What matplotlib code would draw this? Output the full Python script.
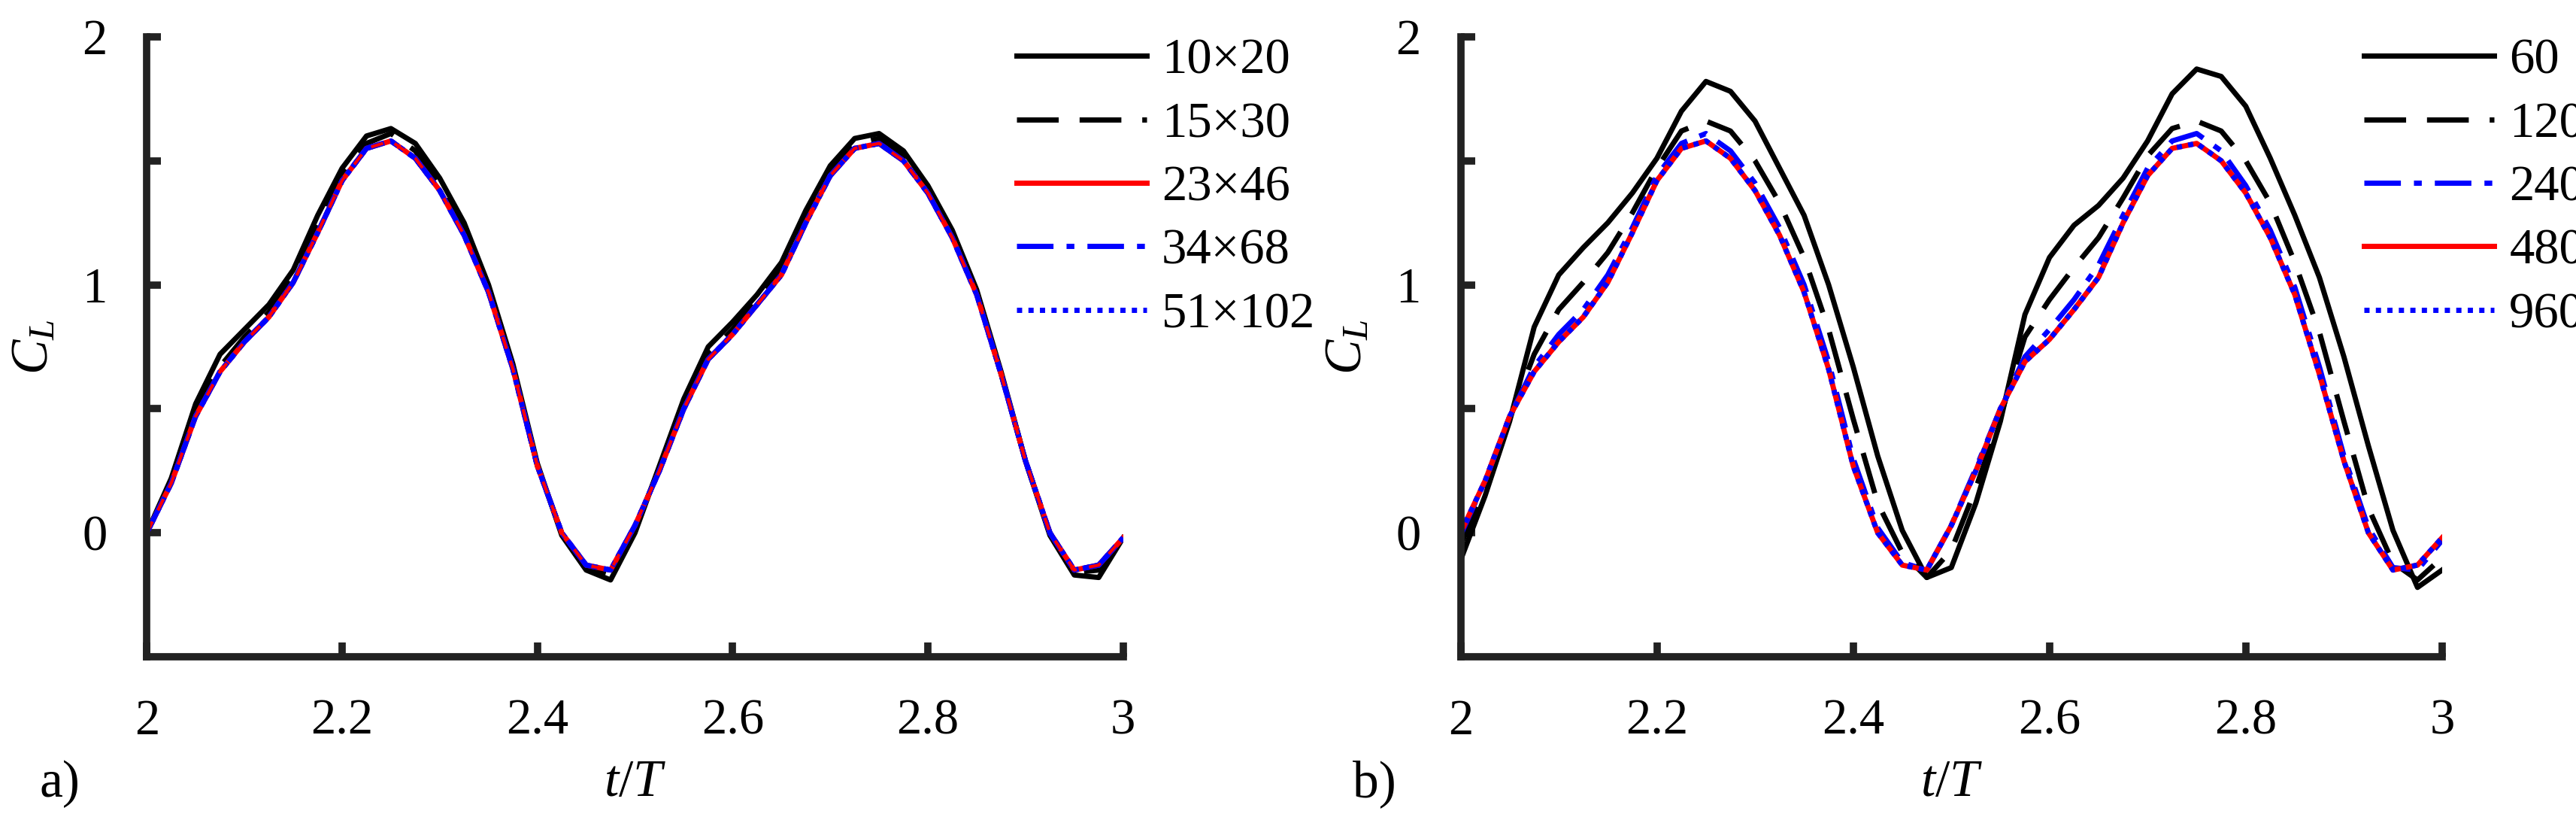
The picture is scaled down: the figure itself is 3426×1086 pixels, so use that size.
import numpy as np
import matplotlib
matplotlib.use("Agg")
import matplotlib.pyplot as plt

plt.rcParams['font.family'] = ['Liberation Serif', 'DejaVu Serif']
plt.rcParams['mathtext.fontset'] = 'custom'
plt.rcParams['mathtext.rm'] = 'Liberation Serif'
plt.rcParams['mathtext.it'] = 'Liberation Serif:italic'

t = np.linspace(2.0, 3.0, 41)

# panel a: grid resolution
a_labels = ['10\u00d720', '15\u00d730', '23\u00d746', '34\u00d768', '51\u00d7102']
a_10x20 = [0.00, 0.22, 0.52, 0.72, 0.82, 0.92, 1.06, 1.28, 1.47, 1.60, 1.63, 1.57, 1.43, 1.25, 1.00,
           0.68, 0.28, -0.01, -0.15, -0.19, 0.00, 0.27, 0.54, 0.75, 0.85, 0.96, 1.09, 1.30, 1.48, 1.59,
           1.61, 1.54, 1.40, 1.22, 0.98, 0.65, 0.29, -0.01, -0.17, -0.18, -0.02]
a_15x30 = [0.00, 0.21, 0.49, 0.67, 0.79, 0.89, 1.03, 1.24, 1.44, 1.57, 1.61, 1.54, 1.40, 1.22, 0.98,
           0.67, 0.27, 0.00, -0.14, -0.17, 0.02, 0.26, 0.52, 0.72, 0.82, 0.94, 1.06, 1.27, 1.46, 1.57,
           1.59, 1.52, 1.38, 1.20, 0.97, 0.64, 0.29, 0.00, -0.16, -0.15, -0.02]
a_conv = [0.00, 0.20, 0.47, 0.65, 0.77, 0.87, 1.01, 1.21, 1.42, 1.55, 1.58, 1.51, 1.38, 1.20, 0.97,
          0.66, 0.27, 0.00, -0.13, -0.15, 0.03, 0.25, 0.50, 0.70, 0.80, 0.92, 1.04, 1.25, 1.44, 1.55,
          1.57, 1.50, 1.37, 1.19, 0.96, 0.64, 0.29, 0.00, -0.15, -0.13, -0.02]

# panel b: time steps per period
b_labels = ['60', '120', '240', '480', '960']
b_60 = [-0.11, 0.15, 0.45, 0.83, 1.04, 1.15, 1.25, 1.37, 1.51, 1.70, 1.82, 1.78, 1.66, 1.47, 1.28,
        1.00, 0.67, 0.31, 0.01, -0.18, -0.14, 0.12, 0.45, 0.88, 1.11, 1.24, 1.32, 1.43, 1.58, 1.77,
        1.87, 1.84, 1.72, 1.51, 1.28, 1.03, 0.71, 0.35, 0.01, -0.22, -0.15]
b_120 = [-0.05, 0.18, 0.46, 0.72, 0.90, 1.01, 1.13, 1.29, 1.47, 1.62, 1.66, 1.62, 1.50, 1.33, 1.11,
         0.82, 0.46, 0.12, -0.08, -0.18, -0.07, 0.18, 0.47, 0.79, 0.94, 1.07, 1.19, 1.35, 1.52, 1.63,
         1.66, 1.62, 1.50, 1.33, 1.09, 0.81, 0.45, 0.10, -0.12, -0.19, -0.10]
b_240 = [-0.01, 0.21, 0.47, 0.67, 0.80, 0.90, 1.04, 1.23, 1.44, 1.57, 1.61, 1.54, 1.41, 1.23, 1.00,
         0.69, 0.30, 0.02, -0.12, -0.15, 0.03, 0.26, 0.50, 0.71, 0.82, 0.94, 1.08, 1.28, 1.47, 1.58,
         1.61, 1.54, 1.40, 1.22, 0.99, 0.67, 0.31, 0.02, -0.14, -0.15, -0.03]
b_480 = [0.00, 0.21, 0.47, 0.65, 0.77, 0.87, 1.01, 1.21, 1.42, 1.55, 1.58, 1.51, 1.38, 1.20, 0.97,
         0.66, 0.27, 0.00, -0.13, -0.15, 0.03, 0.25, 0.50, 0.69, 0.78, 0.90, 1.03, 1.25, 1.44, 1.55,
         1.57, 1.50, 1.37, 1.19, 0.96, 0.64, 0.29, 0.00, -0.15, -0.13, -0.02]

fig = plt.figure(figsize=(34.26, 10.86), dpi=100)
ax1 = fig.add_axes([0.057, 0.196, 0.379, 0.759])
ax2 = fig.add_axes([0.567, 0.196, 0.381, 0.759])

lw = 5
dash = (8, 4)
dashdot = (7, 2.5, 1.5, 2.5)
dot = (1, 1.2)
ax1.plot(t, a_10x20, color='black', lw=lw, label=a_labels[0])
ax1.plot(t, a_15x30, color='black', lw=lw, dashes=dash, label=a_labels[1])
ax1.plot(t, a_conv, color='red', lw=lw, label=a_labels[2])
ax1.plot(t, a_conv, color='blue', lw=lw, dashes=dashdot, label=a_labels[3])
ax1.plot(t, a_conv, color='blue', lw=lw, dashes=dot, label=a_labels[4])
ax1.plot(t, a_conv, color='red', lw=lw * 0.6, dashes=(4, 4))

ax2.plot(t, b_60, color='black', lw=lw, label=b_labels[0])
ax2.plot(t, b_120, color='black', lw=lw, dashes=dash, label=b_labels[1])
ax2.plot(t, b_240, color='blue', lw=lw, dashes=dashdot, label=b_labels[2])
ax2.plot(t, b_480, color='red', lw=lw, label=b_labels[3])
ax2.plot(t, b_480, color='blue', lw=lw, dashes=dot, label=b_labels[4])

for ax, tag, lx in [(ax1, 'a)', 0.87), (ax2, 'b)', 0.90)]:
    ax.set_xlim(2, 3)
    ax.set_ylim(-0.5, 2)
    ax.set_xticks([2, 2.2, 2.4, 2.6, 2.8, 3])
    ax.set_xticklabels(['2', '2.2', '2.4', '2.6', '2.8', '3'])
    ax.set_yticks([0, 0.5, 1, 1.5, 2])
    ax.set_yticklabels(['0', '', '1', '', '2'])
    for s in ['top', 'right']:
        ax.spines[s].set_visible(False)
    for s in ['left', 'bottom']:
        ax.spines[s].set_linewidth(7)
        ax.spines[s].set_color('#222222')
    ax.tick_params(direction='in', length=14, width=7, labelsize=48, pad=40, color='#222222')
    ax.tick_params(axis='y', pad=38)
    ax.set_xlabel('$t/T$', fontsize=50, labelpad=14)
    ax.set_ylabel('$C_L$', fontsize=50, labelpad=22)
    ax.text(-0.11, -0.205, tag, transform=ax.transAxes, fontsize=50, ha='left', va='center')
    ax.legend(loc='upper left', bbox_to_anchor=(lx, 1.03), frameon=False, fontsize=48,
              handlelength=2.6, handletextpad=0.3, labelspacing=0.35, borderaxespad=0)

fig.savefig('out.png', dpi=100)
